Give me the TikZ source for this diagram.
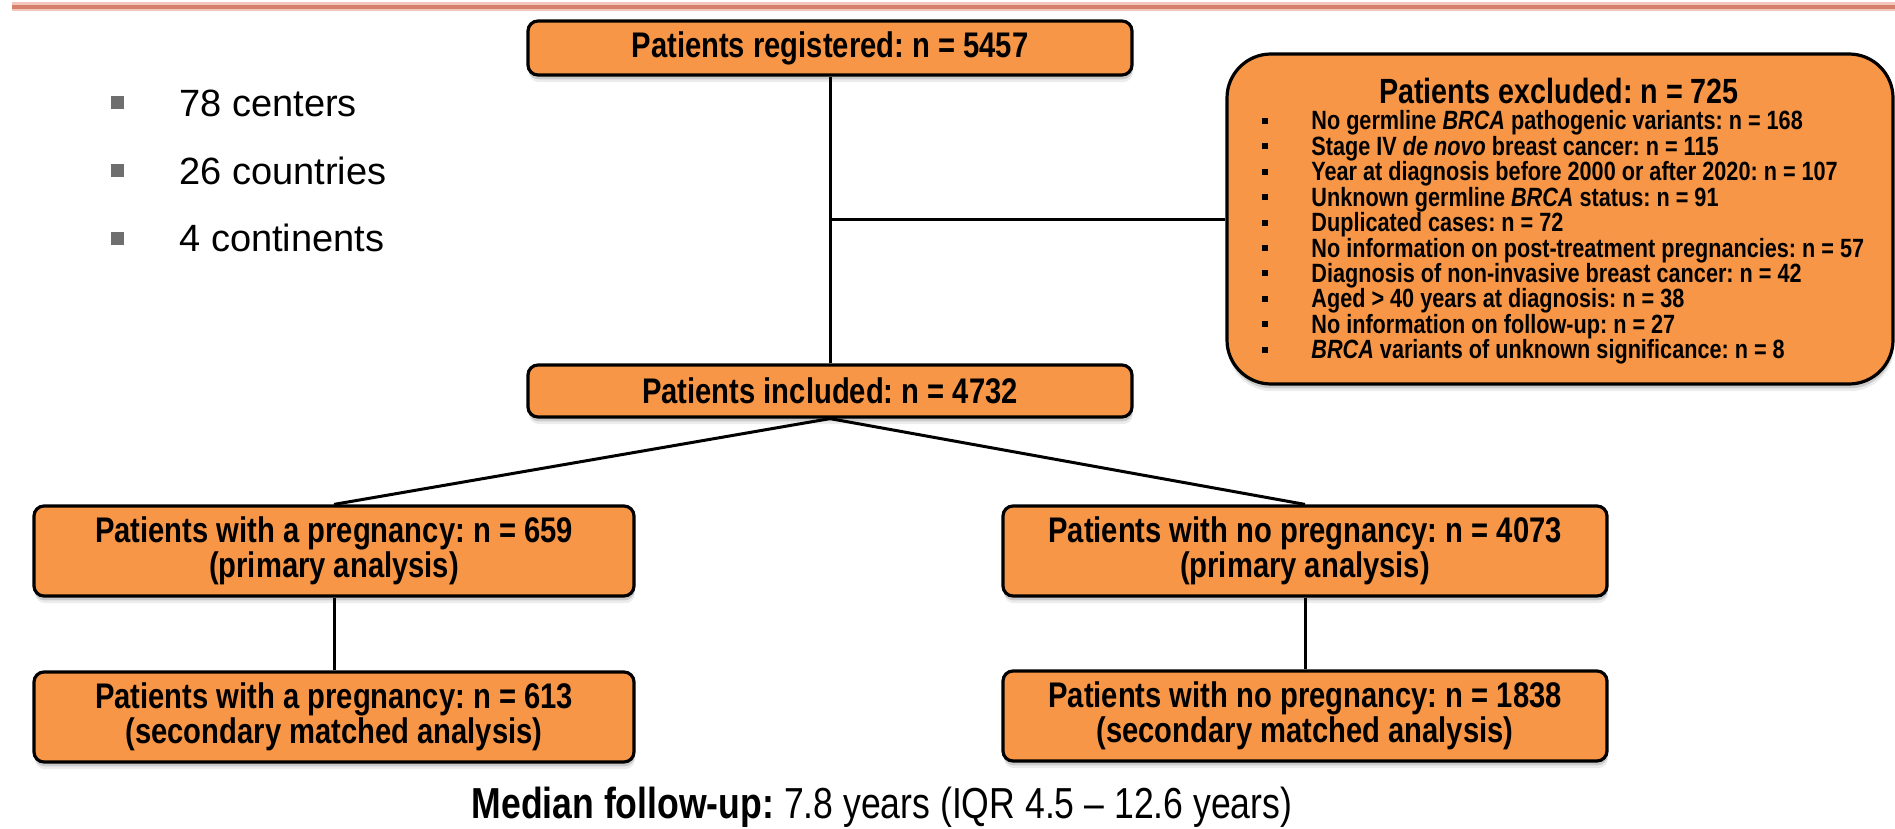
\documentclass[tikz,border=0pt]{standalone}
\usepackage{fontspec}
\setmainfont{Liberation Sans}
\newfontfamily\narrow[FakeStretch=0.82]{Liberation Sans}
\usetikzlibrary{shadows}
\definecolor{boxorange}{HTML}{F79646}
\definecolor{rulecore}{RGB}{214,128,108}
\definecolor{ruleedge}{RGB}{242,198,186}
\definecolor{bulletgray}{RGB}{110,110,110}

\tikzset{
  softshadow/.style={
    drop shadow={shadow xshift=0.5pt, shadow yshift=-3.6pt, opacity=0.15},
    drop shadow={shadow xshift=0.3pt, shadow yshift=-2.2pt, opacity=0.3}},
  flowbox/.style={draw=black, line width=1.6pt, fill=boxorange, rounded corners=5pt,
    softshadow, align=center, inner sep=0pt,
    font=\narrow\bfseries\fontsize{17.8}{17.5}\selectfont},
  link/.style={draw=black, line width=1.5pt},
  exitem/.style={anchor=base west, inner sep=0pt, font=\narrow\bfseries\fontsize{13.2}{13}\selectfont},
  exbullet/.style={fill=black, minimum size=3pt, inner sep=0pt},
  sidebullet/.style={fill=bulletgray, minimum size=6.5pt, inner sep=0pt},
  sidetext/.style={anchor=west, inner sep=0pt, font=\fontsize{19}{22}\selectfont},
}

\begin{document}
\frenchspacing
\begin{tikzpicture}[x=0.5pt, y=-0.5pt]
\useasboundingbox (0,0) rectangle (1895,829);

% header rule
\coordinate (ruleL) at (12,7);
\coordinate (ruleR) at (1895,7);
\draw[ruleedge, line width=4.5pt] (ruleL) -- (ruleR);
\draw[rulecore, line width=1.8pt] (ruleL) -- (ruleR);

% side facts
\foreach \txt [count=\i from 0] in {78 centers, 26 countries, 4 continents} {
  \node[sidebullet] (sb\i) at (117, {103+67.5*\i}) {};
  \node[sidetext] (st\i) at (179, {103+67.5*\i}) {\txt};
}

% main flow boxes
\node[flowbox, minimum width=302pt, minimum height=27pt] (reg) at (830,48) {Patients registered: n = 5457};
\node[flowbox, minimum width=302pt, minimum height=26pt] (inc) at (830,391) {Patients included: n = 4732};
\node[flowbox, minimum width=300pt, minimum height=45pt] (preg) at (334,551) {Patients with a pregnancy: n = 659\\(primary analysis)};
\node[flowbox, minimum width=302pt, minimum height=45pt] (nopreg) at (1305,551) {Patients with no pregnancy: n = 4073\\(primary analysis)};
\node[flowbox, minimum width=300pt, minimum height=45pt] (pregm) at (334,717) {Patients with a pregnancy: n = 613\\(secondary matched analysis)};
\node[flowbox, minimum width=302pt, minimum height=45pt] (nopregm) at (1305,716) {Patients with no pregnancy: n = 1838\\(secondary matched analysis)};

% exclusion box
\node[flowbox, rounded corners=22pt, minimum width=333pt, minimum height=165pt] (excl) at (1560,219) {};
\node[font=\narrow\bfseries\fontsize{17.5}{20}\selectfont, inner sep=0pt] (extitle) at (1559,91) {Patients excluded: n = 725};
\foreach \txt [count=\i from 0] in {
  {No germline \textit{BRCA} pathogenic variants: n = 168},
  {Stage IV \textit{de novo} breast cancer: n = 115},
  {Year at diagnosis before 2000 or after 2020: n = 107},
  {Unknown germline \textit{BRCA} status: n = 91},
  {Duplicated cases: n = 72},
  {No information on post-treatment pregnancies: n = 57},
  {Diagnosis of non-invasive breast cancer: n = 42},
  {Aged > 40 years at diagnosis: n = 38},
  {No information on follow-up: n = 27},
  {\textit{BRCA} variants of unknown significance: n = 8}} {
  \node[exbullet] (exb\i) at (1265, {121+25.4*\i}) {};
  \node[exitem] (ex\i) at (1311, {130+25.4*\i}) {\txt};
}

% connectors
\draw[link] (reg.south) -- (inc.north);
\draw[link] (reg.south |- excl.west) -- (excl.west);
\draw[link] (inc.south) -- (preg.north);
\draw[link] (inc.south) -- (nopreg.north);
\draw[link] (preg.south) -- (pregm.north);
\draw[link] (nopreg.south) -- (nopregm.north);

% footer
\node[inner sep=0pt, font=\narrow\fontsize{21.7}{24}\selectfont] (followup) at (882,807)
  {\textbf{Median follow-up:} 7.8 years (IQR 4.5 – 12.6 years)};
\end{tikzpicture}
\end{document}
